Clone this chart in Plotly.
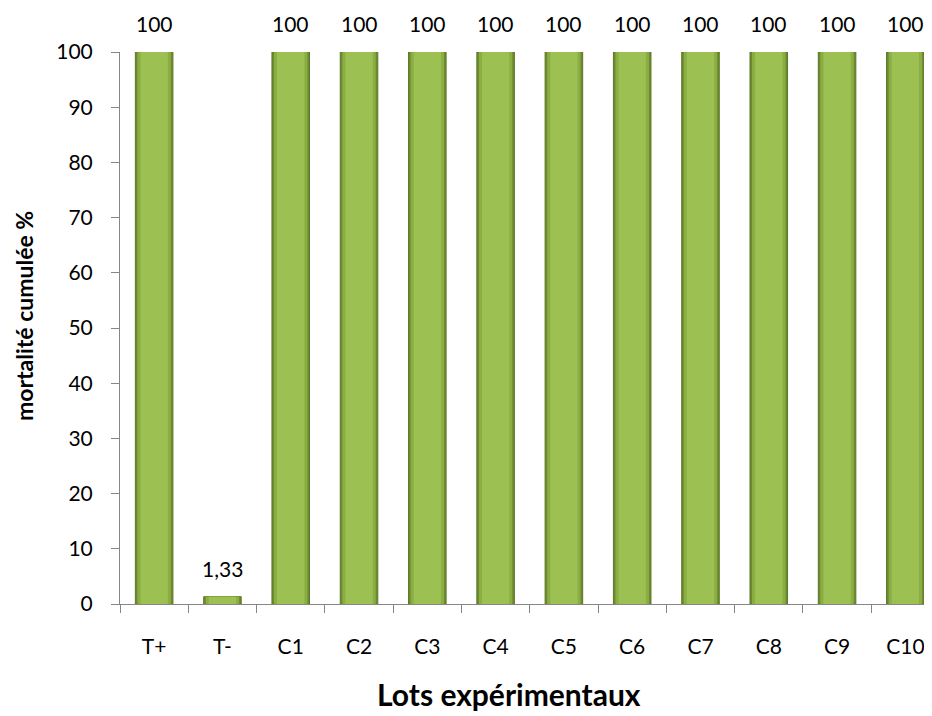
import plotly.graph_objects as go

categories = ["T+", "T-", "C1", "C2", "C3", "C4", "C5", "C6", "C7", "C8", "C9", "C10"]
mortality = [100, 1.33, 100, 100, 100, 100, 100, 100, 100, 100, 100, 100]
value_labels = ["100", "1,33", "100", "100", "100", "100", "100", "100", "100", "100", "100", "100"]
y_ticks = [0, 10, 20, 30, 40, 50, 60, 70, 80, 90, 100]
x_title = "Lots expérimentaux"
y_title = "mortalité cumulée %"

font_family = "Lato, Open Sans, sans-serif"
axis_grey = "#868686"

fig = go.Figure()
# outer darker bar (bevel edges)
fig.add_trace(go.Bar(
    x=categories, y=mortality, width=0.55,
    marker=dict(color="#6d8a2e", line=dict(color="#5d7728", width=1)),
    hoverinfo="skip", showlegend=False,
))
# mid face
fig.add_trace(go.Bar(
    x=categories, y=mortality, width=0.49,
    marker=dict(color="#8aae43", line=dict(width=0)),
    hoverinfo="skip", showlegend=False,
))
# inner lighter face
fig.add_trace(go.Bar(
    x=categories, y=mortality, width=0.40,
    marker=dict(color="#9cc152", line=dict(width=0)),
    hoverinfo="skip", showlegend=False,
))

for cat, val, lab in zip(categories, mortality, value_labels):
    fig.add_annotation(
        x=cat, y=val, text=lab, showarrow=False,
        xanchor="center", yanchor="bottom", yshift=14,
        font=dict(family=font_family, size=21, color="#000000"),
    )

# axis titles as annotations for precise placement
fig.add_annotation(
    xref="paper", yref="paper", x=0.5, y=0, xshift=-17, yshift=-70,
    text=f"<b>{x_title}</b>", showarrow=False, xanchor="center", yanchor="top",
    font=dict(family=font_family, size=30, color="#000000"),
)
fig.add_annotation(
    xref="paper", yref="paper", x=0, y=0.5, xshift=-112, yshift=12,
    text=f"<b>{y_title}</b>", showarrow=False, textangle=-90,
    xanchor="left", yanchor="middle",
    font=dict(family=font_family, size=23, color="#000000"),
)

fig.update_layout(
    width=924, height=708,
    barmode="overlay",
    paper_bgcolor="white", plot_bgcolor="white",
    margin=dict(l=112, r=0, t=44, b=112),
    font=dict(family=font_family, size=21, color="#000000"),
    xaxis=dict(
        type="category", range=[-0.5, 11.39],
        showline=True, linecolor=axis_grey, linewidth=1,
        ticks="outside", tickson="boundaries", ticklen=8, tickcolor=axis_grey,
        showgrid=False, tickfont=dict(size=21), ticklabelstandoff=24,
    ),
    yaxis=dict(
        range=[0, 100], tickvals=y_ticks,
        showline=True, linecolor=axis_grey, linewidth=1,
        ticks="outside", ticklen=8, tickcolor=axis_grey,
        showgrid=False, zeroline=False, tickfont=dict(size=21), ticklabelstandoff=14,
    ),
)

fig.write_html("out.html")
